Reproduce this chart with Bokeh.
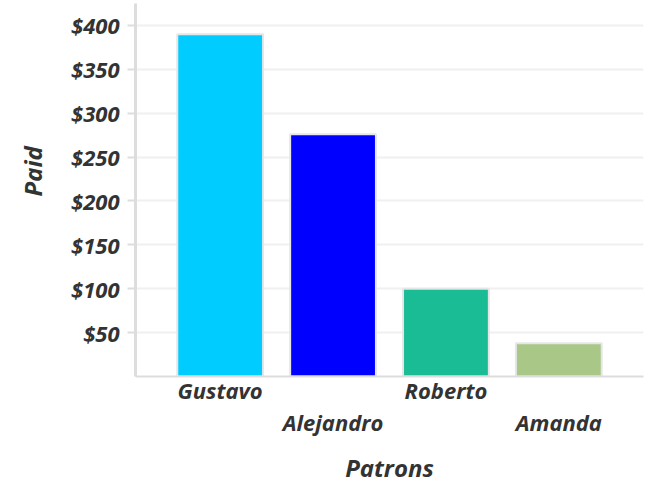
from bokeh.plotting import figure
from bokeh.models import (ColumnDataSource, FixedTicker, NumeralTickFormatter,
                          LinearAxis, Range1d)
from bokeh.embed import file_html
from bokeh.resources import INLINE

# ---- data ----
patrons = ["Gustavo", "Alejandro", "Roberto", "Amanda"]
paid = [390, 276, 100, 38]
bar_colors = ["#00ccff", "#0000ff", "#1abc96", "#a9c786"]
y_ticks = [50, 100, 150, 200, 250, 300, 350, 400]
x_title = "Patrons"
y_title = "Paid"

FONT = "Open Sans"
TXT = "#333333"
AXC = "#dddddd"
TICK_FS = "22px"
TITLE_FS = "24px"

idx = list(range(len(patrons)))
src = ColumnDataSource(dict(x=idx, top=paid, color=bar_colors, name=patrons))

p = figure(width=650, height=488, output_backend="svg", toolbar_location=None,
           x_range=Range1d(-0.75, len(patrons) - 0.25), y_range=Range1d(0, 425),
           min_border_left=135, min_border_right=7, min_border_top=3,
           min_border_bottom=112)
p.outline_line_color = None
p.background_fill_color = "white"
p.border_fill_color = "white"

p.vbar(x="x", top="top", width=0.76, fill_color="color", line_color="#e6e6e6",
       line_width=2, source=src)

# y axis
p.yaxis.ticker = FixedTicker(ticks=y_ticks)
p.yaxis.formatter = NumeralTickFormatter(format="$0")
p.yaxis.axis_line_color = AXC
p.yaxis.axis_line_width = 3
p.yaxis.major_tick_line_color = AXC
p.yaxis.major_tick_line_width = 2
p.yaxis.major_tick_out = 8
p.yaxis.major_tick_in = 0
p.yaxis.minor_tick_line_color = None
p.yaxis.major_label_standoff = 8
p.yaxis.major_label_text_font = FONT
p.yaxis.major_label_text_font_style = "bold italic"
p.yaxis.major_label_text_font_size = TICK_FS
p.yaxis.major_label_text_color = TXT
p.yaxis.axis_label = "\u00a0" * 6 + y_title
p.yaxis.axis_label_standoff = 19
p.yaxis.axis_label_text_font = FONT
p.yaxis.axis_label_text_font_style = "bold italic"
p.yaxis.axis_label_text_font_size = TITLE_FS
p.yaxis.axis_label_text_color = TXT

# x axis, first row of staggered labels
even = [i for i in idx if i % 2 == 0]
odd = [i for i in idx if i % 2 == 1]
xa = p.xaxis[0]
xa.ticker = FixedTicker(ticks=even)
xa.major_label_overrides = {i: patrons[i] for i in even}
xa.axis_line_color = AXC
xa.axis_line_width = 2
xa.major_tick_line_color = None
xa.minor_tick_line_color = None
xa.major_label_standoff = -8
xa.major_label_text_font = FONT
xa.major_label_text_font_style = "bold italic"
xa.major_label_text_font_size = TICK_FS
xa.major_label_text_color = TXT

# second row of staggered labels + axis title
xb = LinearAxis(ticker=FixedTicker(ticks=odd),
                major_label_overrides={i: patrons[i] for i in odd})
xb.axis_line_color = None
xb.major_tick_line_color = None
xb.minor_tick_line_color = None
xb.major_label_standoff = -7
xb.major_label_text_font = FONT
xb.major_label_text_font_style = "bold italic"
xb.major_label_text_font_size = TICK_FS
xb.major_label_text_color = TXT
xb.axis_label = x_title
xb.axis_label_standoff = 11
xb.axis_label_text_font = FONT
xb.axis_label_text_font_style = "bold italic"
xb.axis_label_text_font_size = TITLE_FS
xb.axis_label_text_color = TXT
p.add_layout(xb, "below")

p.xgrid.grid_line_color = None
p.ygrid.ticker = FixedTicker(ticks=y_ticks)
p.ygrid.grid_line_color = "#f0f0f0"
p.ygrid.grid_line_width = 2

open("out.html", "w").write(file_html(p, INLINE))
